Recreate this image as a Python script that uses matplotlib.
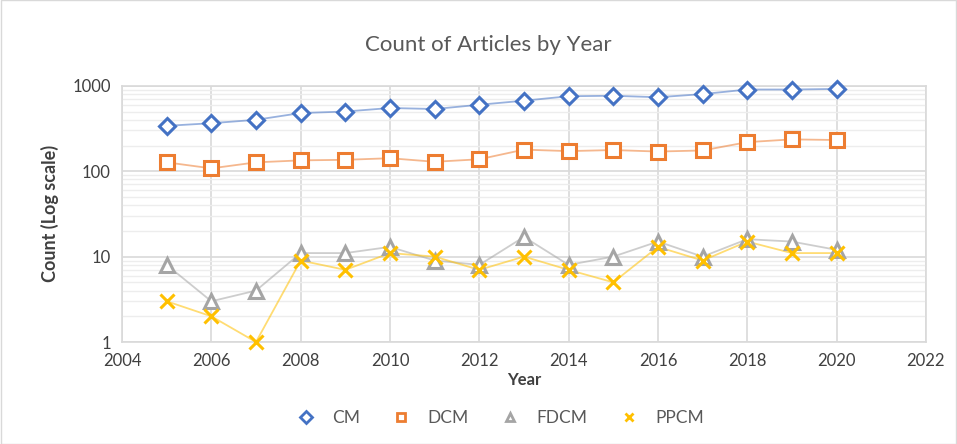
import matplotlib.pyplot as plt
from matplotlib.ticker import FixedLocator, LogLocator, NullFormatter

# ── data ─────────────────────────────────────────────
years = list(range(2005, 2021))
cm = [340, 365, 400, 480, 500, 550, 535, 600, 670, 755, 765, 735, 800, 905, 905, 920]
dcm = [127, 108, 127, 134, 136, 142, 129, 138, 179, 172, 177, 170, 175, 219, 236, 232]
fdcm = [8, 3, 4, 11, 11, 13, 9, 8, 17, 8, 10, 15, 10, 16, 15, 12]
ppcm = [3, 2, 1, 9, 7, 11, 10, 7, 10, 7, 5, 13, 9, 15, 11, 11]
x_ticks = list(range(2004, 2023, 2))
y_ticks = [1, 10, 100, 1000]

plt.rcParams["font.family"] = ["Lato", "DejaVu Sans"]

fig = plt.figure(figsize=(9.57, 4.44), dpi=100)
ax = fig.add_axes([0.1275, 0.2297, 0.84, 0.577])

series = [
    ("CM", cm, "#4472C4", "D", 8),
    ("DCM", dcm, "#ED7D31", "s", 10),
    ("FDCM", fdcm, "#A5A5A5", "^", 10),
    ("PPCM", ppcm, "#FFC000", "x", 10),
]
for name, vals, col, mk, ms in series:
    ax.plot(years, vals, color=col, alpha=0.55, lw=1.3, zorder=2)
    if mk == "x":
        ax.plot(years, vals, ls="none", marker=mk, ms=ms, mew=2.2,
                color=col, zorder=3, clip_on=False)
    else:
        ax.plot(years, vals, ls="none", marker=mk, ms=ms, mew=2.2,
                mec=col, mfc="white", zorder=3, clip_on=False)
    ax.plot([], [], ls="none", marker=mk, ms=6, mew=2, mec=col,
            mfc="white", color=col, label=name)

ax.set_yscale("log")
ax.set_ylim(1, 1000)
ax.set_xlim(2004, 2022)
ax.xaxis.set_major_locator(FixedLocator(x_ticks))
ax.yaxis.set_major_locator(FixedLocator(y_ticks))
ax.yaxis.set_minor_locator(LogLocator(base=10, subs=range(2, 10)))
ax.yaxis.set_minor_formatter(NullFormatter())
ax.set_yticklabels([str(v) for v in y_ticks])

ax.grid(True, which="major", color="#D9D9D9", lw=1.2, zorder=0)
ax.grid(True, which="minor", axis="y", color="#EDEDED", lw=1, zorder=0)
ax.tick_params(which="both", length=0, labelsize=12, colors="#404040", pad=8)
for s in ax.spines.values():
    s.set_color("#D9D9D9")
    s.set_linewidth(1.2)

ax.set_xlabel("Year", fontsize=12, fontweight="bold", color="#404040", labelpad=2)
ax.set_ylabel("Count (Log scale)", fontsize=13, fontweight="bold", color="#404040",
              labelpad=10)
fig.text(0.51, 0.898, "Count of Articles by Year", ha="center", va="center",
         fontsize=16, color="#595959")

fig.legend(loc="center", bbox_to_anchor=(0.522, 0.058), ncol=4, frameon=False,
           fontsize=12.5, labelcolor="#595959", handletextpad=0.9, columnspacing=1.8,
           handlelength=1.2)

fig.patches.append(plt.Rectangle((0.001, 0.001), 0.998, 0.998, transform=fig.transFigure,
                                 fill=False, ec="#D9D9D9", lw=1))

plt.savefig("out.png", dpi=100)
